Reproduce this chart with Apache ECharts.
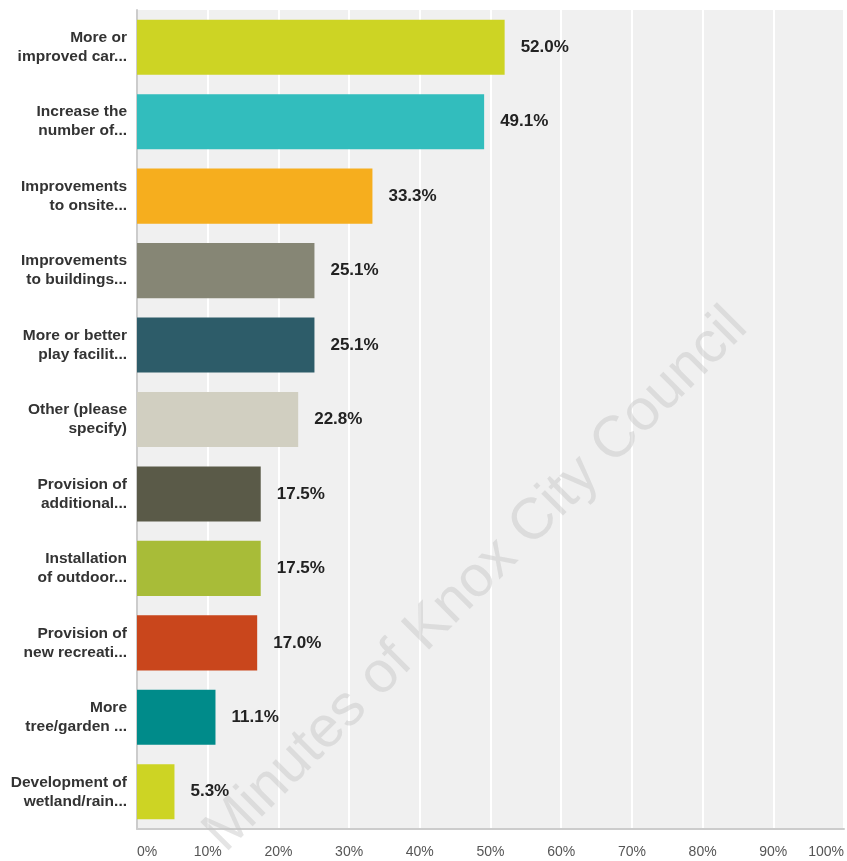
<!DOCTYPE html>
<html>
<head>
<meta charset="utf-8">
<script src="https://cdn.jsdelivr.net/npm/echarts@6/dist/echarts.min.js"></script>
<style>
html,body{margin:0;padding:0;background:#fff;overflow:hidden;}
#chart{width:847px;height:861px;}
</style>
</head>
<body>
<div id="chart"></div>
<script>
const categories = [
  "More or\nimproved car...",
  "Increase the\nnumber of...",
  "Improvements\nto onsite...",
  "Improvements\nto buildings...",
  "More or better\nplay facilit...",
  "Other (please\nspecify)",
  "Provision of\nadditional...",
  "Installation\nof outdoor...",
  "Provision of\nnew recreati...",
  "More\ntree/garden ...",
  "Development of\nwetland/rain..."
];
const values = [52.0, 49.1, 33.3, 25.1, 25.1, 22.8, 17.5, 17.5, 17.0, 11.1, 5.3];
const barColors = ["#cdd424", "#32bdbd", "#f6ae1e", "#868675", "#2d5c69", "#d1cfc1", "#5a5a48", "#a8bc38", "#c9461c", "#008b8a", "#cdd424"];
const xTicks = [0, 10, 20, 30, 40, 50, 60, 70, 80, 90, 100];
const watermark = "Minutes of Knox City Council";

const chart = echarts.init(document.getElementById('chart'), null, {renderer: 'canvas'});
chart.setOption({
  animation: false,
  backgroundColor: '#ffffff',
  textStyle: {fontFamily: 'Liberation Sans, Arial, sans-serif'},
  grid: {left: 137, top: 10, width: 710, bottom: 32, show: true, backgroundColor: '#f0f0f0', borderWidth: 0},
  xAxis: {
    type: 'value', min: xTicks[0], max: xTicks[xTicks.length - 1], interval: 10,
    axisLine: {show: true, lineStyle: {color: '#cccccc', width: 2}},
    axisTick: {show: false},
    splitLine: {show: true, lineStyle: {color: '#ffffff', width: 2}},
    axisLabel: {formatter: '{value}%', color: '#555', fontSize: 14, margin: 16,
      alignMinLabel: 'left', alignMaxLabel: 'right',
      fontFamily: 'Liberation Sans, Arial, sans-serif'}
  },
  yAxis: {
    type: 'category', data: categories, inverse: true,
    axisLine: {show: true, lineStyle: {color: '#cccccc', width: 2}},
    axisTick: {show: false},
    splitLine: {show: false},
    axisLabel: {color: '#333', fontSize: 15.5, fontWeight: 'bold', lineHeight: 19, margin: 10, align: 'right',
      fontFamily: 'Liberation Sans, Arial, sans-serif'}
  },
  series: [{
    type: 'bar',
    data: values.map((v, i) => ({value: v, itemStyle: {color: barColors[i]}})),
    barCategoryGap: '26%',
    label: {show: true, position: 'right', distance: 16, formatter: p => p.value.toFixed(1) + '%',
      color: '#222', fontSize: 17, fontWeight: 'bold', fontFamily: 'Liberation Sans, Arial, sans-serif'}
  }],
  graphic: [{
    type: 'text', x: 476, y: 580, rotation: Math.PI / 4, z: 100,
    style: {text: watermark, fontSize: 58, fontFamily: 'Liberation Sans, Arial, sans-serif',
      fill: 'rgba(195,195,195,0.45)', align: 'center', verticalAlign: 'middle'}
  }]
});
</script>
</body>
</html>
